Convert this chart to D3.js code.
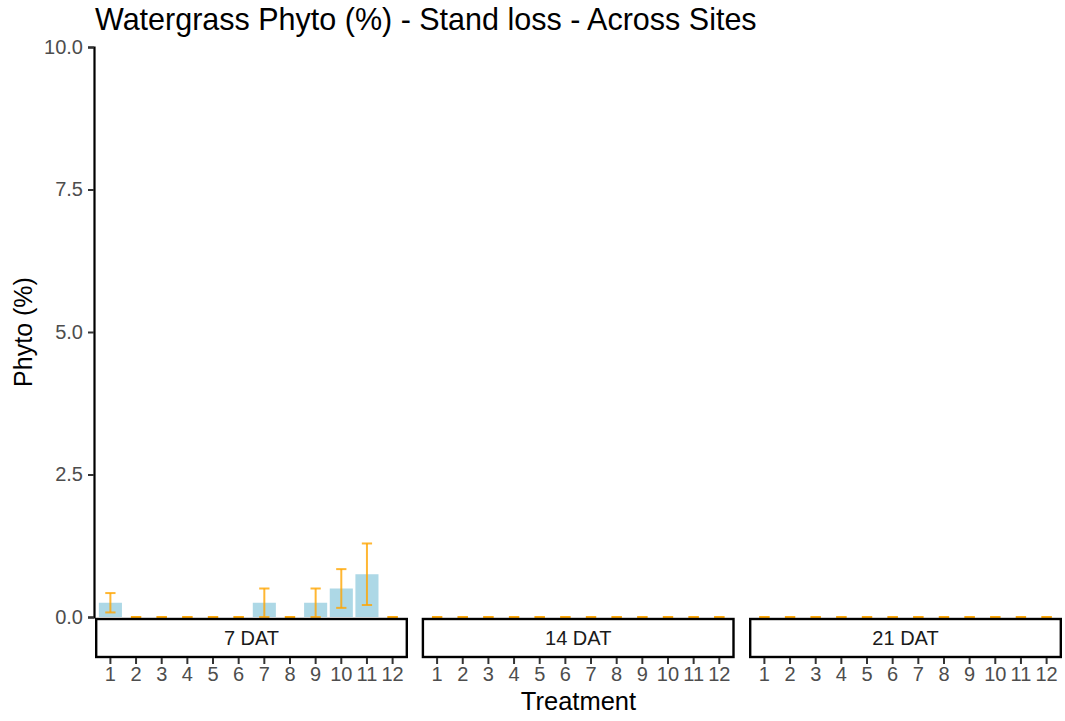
<!DOCTYPE html>
<html lang="en">
  <head>
    <meta charset="UTF-8" />
    <title>Watergrass Phyto (%) - Stand loss - Across Sites</title>
    <script src="https://d3js.org/d3.v7.min.js"></script>
    <style>
      body { margin: 0; background: #fff; }
      svg { display: block; font-family: "Liberation Sans", Arial, sans-serif; }
    </style>
  </head>
  <body>
    <script>
      // data
      const treatments = ["1","2","3","4","5","6","7","8","9","10","11","12"];
      const timings = ["7 DAT", "14 DAT", "21 DAT"];
      const means7 = [0.25, 0, 0, 0, 0, 0, 0.25, 0, 0.25, 0.5, 0.75, 0];
      const se7 = [0.17, 0, 0, 0, 0, 0, 0.25, 0, 0.25, 0.34, 0.54, 0];
      const means14 = [0, 0, 0, 0, 0, 0, 0, 0, 0, 0, 0, 0];
      const se14 = [0, 0, 0, 0, 0, 0, 0, 0, 0, 0, 0, 0];
      const means21 = [0, 0, 0, 0, 0, 0, 0, 0, 0, 0, 0, 0];
      const se21 = [0, 0, 0, 0, 0, 0, 0, 0, 0, 0, 0, 0];
      const yTicks = [0, 2.5, 5, 7.5, 10];

      const panels = [
        { label: timings[0], means: means7, se: se7 },
        { label: timings[1], means: means14, se: se14 },
        { label: timings[2], means: means21, se: se21 }
      ];

      const width = 1065, height = 721;
      const svg = d3.select("body").append("svg")
        .attr("width", width).attr("height", height);

      const plotTop = 47, plotBottom = 617;
      const panelX = [95, 421.7, 749];
      const panelW = 313;
      const stripH = 38;
      const tickFont = 20;

      const y = d3.scaleLinear().domain([0, 10]).range([plotBottom, plotTop]);

      // title
      svg.append("text")
        .attr("x", 95).attr("y", 30)
        .attr("font-size", 30.5).attr("fill", "#000")
        .text("Watergrass Phyto (%) - Stand loss - Across Sites");

      // y axis
      const yAxis = svg.append("g").attr("transform", `translate(${panelX[0] - 1},0)`)
        .call(d3.axisLeft(y).tickValues(yTicks).tickFormat(d3.format(".1f")).tickSize(6).tickPadding(5));
      yAxis.select(".domain").attr("stroke", "#000").attr("stroke-width", 2.2);
      yAxis.selectAll(".tick line").attr("stroke", "#333").attr("stroke-width", 2);
      yAxis.selectAll(".tick text").attr("fill", "#4d4d4d").attr("font-size", tickFont)
        .attr("font-family", "Liberation Sans, Arial, sans-serif");

      svg.append("text")
        .attr("transform", `translate(32,${(plotTop + plotBottom) / 2}) rotate(-90)`)
        .attr("text-anchor", "middle")
        .attr("font-size", 25).attr("fill", "#000")
        .text("Phyto (%)");

      panels.forEach((p, i) => {
        const x = d3.scaleBand().domain(treatments)
          .range([panelX[i], panelX[i] + panelW])
          .paddingInner(0.1).paddingOuter(0.15);
        const bw = x.bandwidth();
        const g = svg.append("g");

        const rows = treatments.map((t, k) => ({ t, m: p.means[k], s: p.se[k] }));

        g.selectAll("rect.bar").data(rows).enter().append("rect")
          .attr("class", "bar")
          .attr("x", d => x(d.t))
          .attr("width", bw)
          .attr("y", d => y(d.m))
          .attr("height", d => y(0) - y(d.m))
          .attr("fill", "#add8e6");

        const capW = x.step() * 0.4;
        const eb = g.selectAll("g.err").data(rows).enter().append("g")
          .attr("class", "err")
          .attr("stroke", "orange").attr("stroke-opacity", 0.8).attr("stroke-width", 2);
        eb.append("line")
          .attr("x1", d => x(d.t) + bw / 2).attr("x2", d => x(d.t) + bw / 2)
          .attr("y1", d => y(d.m - d.s)).attr("y2", d => y(d.m + d.s));
        eb.append("line")
          .attr("x1", d => x(d.t) + bw / 2 - capW / 2).attr("x2", d => x(d.t) + bw / 2 + capW / 2)
          .attr("y1", d => y(d.m + d.s)).attr("y2", d => y(d.m + d.s));
        eb.append("line")
          .attr("x1", d => x(d.t) + bw / 2 - capW / 2).attr("x2", d => x(d.t) + bw / 2 + capW / 2)
          .attr("y1", d => y(d.m - d.s)).attr("y2", d => y(d.m - d.s));

        // strip below the panel
        g.append("rect")
          .attr("x", panelX[i] + 1.2).attr("y", plotBottom + 2)
          .attr("width", panelW - 2.4).attr("height", stripH)
          .attr("fill", "#fff").attr("stroke", "#000").attr("stroke-width", 2.4);
        g.append("text")
          .attr("x", panelX[i] + panelW / 2).attr("y", plotBottom + 2 + stripH / 2 + 7)
          .attr("text-anchor", "middle").attr("font-size", tickFont).attr("fill", "#1a1a1a")
          .text(p.label);

        // x axis ticks under strip
        const xa = svg.append("g").attr("transform", `translate(0,${plotBottom + 3 + stripH})`)
          .call(d3.axisBottom(x).tickSize(6).tickPadding(3));
        xa.select(".domain").remove();
        xa.selectAll(".tick line").attr("stroke", "#333").attr("stroke-width", 2);
        xa.selectAll(".tick text").attr("fill", "#4d4d4d").attr("font-size", tickFont)
          .attr("font-family", "Liberation Sans, Arial, sans-serif");
      });

      svg.append("text")
        .attr("x", (panelX[0] + panelX[2] + panelW) / 2).attr("y", 710)
        .attr("text-anchor", "middle").attr("font-size", 25.5).attr("fill", "#000")
        .text("Treatment");
    </script>
  </body>
</html>
